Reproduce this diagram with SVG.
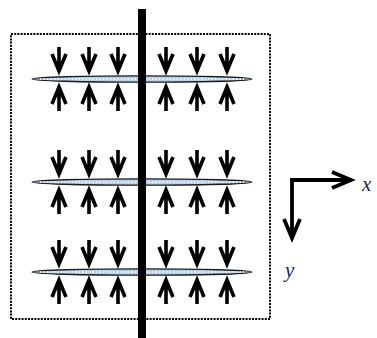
<svg xmlns="http://www.w3.org/2000/svg" width="377" height="338" viewBox="0 0 377 338">
  <defs>
    <style>
      .frame { fill: none; stroke: #000; stroke-width: 2; stroke-dasharray: 2 1.2; }
      .lens { fill: #b9d0e8; stroke: #1a1a1a; stroke-width: 1.3; }
      .grain { fill: none; stroke: #ffffff; stroke-width: 1.6; stroke-dasharray: 1.5 2; }
      .arr { fill: none; stroke: #000; stroke-width: 3.6; stroke-linecap: butt; stroke-linejoin: miter; stroke-miterlimit: 10; }
      .axis { fill: none; stroke: #000; stroke-width: 3.8; stroke-linejoin: miter; stroke-miterlimit: 10; }
      .bar { fill: #000; }
      .lbl { font-family: "Liberation Serif", "Times New Roman", serif; font-style: italic; font-size: 21px; fill: #1a2a5a; }
    </style>
    <!-- downward open arrow, tip at origin -->
    <g id="down">
      <path class="arr" d="M0,-25 V-2 M-7,-18 L0,-1 L7,-18"/>
    </g>
    <!-- upward open arrow, tip at origin -->
    <g id="up">
      <path class="arr" d="M0,25 V2 M-7,18 L0,1 L7,18"/>
    </g>
  </defs>

  <rect id="boundary" class="frame" x="11" y="34" width="259" height="285"/>

  <!-- three thin layers squeezed from above and below -->
  <g id="layer1">
    <ellipse class="lens" cx="142" cy="79" rx="110" ry="3.2"/>
    <line class="grain" x1="40" y1="79" x2="244" y2="79"/>
  </g>
  <g id="layer2">
    <ellipse class="lens" cx="142" cy="182" rx="110" ry="3.2"/>
    <line class="grain" x1="40" y1="182" x2="244" y2="182"/>
  </g>
  <g id="layer3">
    <ellipse class="lens" cx="142" cy="272" rx="110" ry="3.2"/>
    <line class="grain" x1="40" y1="272" x2="244" y2="272"/>
  </g>

  <!-- central rod -->
  <rect id="rod" class="bar" x="138" y="9" width="8" height="329"/>

  <g id="connectors">
    <!-- row 1 -->
    <use href="#down" x="59" y="72"/><use href="#down" x="89" y="72"/><use href="#down" x="118" y="72"/>
    <use href="#down" x="166" y="72"/><use href="#down" x="197" y="72"/><use href="#down" x="227" y="72"/>
    <use href="#up" x="59" y="86"/><use href="#up" x="89" y="86"/><use href="#up" x="118" y="86"/>
    <use href="#up" x="166" y="86"/><use href="#up" x="197" y="86"/><use href="#up" x="227" y="86"/>
    <!-- row 2 -->
    <use href="#down" x="59" y="175"/><use href="#down" x="89" y="175"/><use href="#down" x="118" y="175"/>
    <use href="#down" x="166" y="175"/><use href="#down" x="197" y="175"/><use href="#down" x="227" y="175"/>
    <use href="#up" x="59" y="189"/><use href="#up" x="89" y="189"/><use href="#up" x="118" y="189"/>
    <use href="#up" x="166" y="189"/><use href="#up" x="197" y="189"/><use href="#up" x="227" y="189"/>
    <!-- row 3 -->
    <use href="#down" x="59" y="265"/><use href="#down" x="89" y="265"/><use href="#down" x="118" y="265"/>
    <use href="#down" x="166" y="265"/><use href="#down" x="197" y="265"/><use href="#down" x="227" y="265"/>
    <use href="#up" x="59" y="279"/><use href="#up" x="89" y="279"/><use href="#up" x="118" y="279"/>
    <use href="#up" x="166" y="279"/><use href="#up" x="197" y="279"/><use href="#up" x="227" y="279"/>
  </g>

  <!-- coordinate axes -->
  <g id="axes">
    <path class="axis" d="M351,180 H292 V238"/>
    <path class="axis" d="M332,172 L351,180 L332,188"/>
    <path class="axis" d="M284,219 L292,238 L300,219"/>
    <text class="lbl" x="362" y="191">x</text>
    <text class="lbl" x="285" y="277">y</text>
  </g>
</svg>
